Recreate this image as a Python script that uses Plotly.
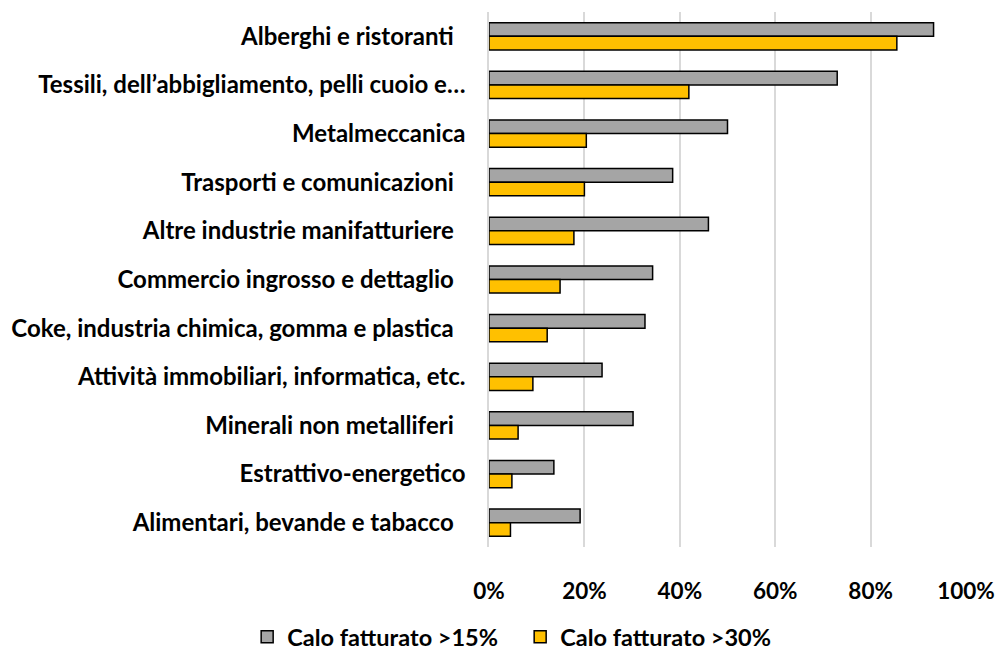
import plotly.graph_objects as go

categories = [
    "Alberghi e ristoranti ",
    "Tessili, dell’abbigliamento, pelli cuoio e…",
    "Metalmeccanica",
    "Trasporti e comunicazioni ",
    "Altre industrie manifatturiere ",
    "Commercio ingrosso e dettaglio ",
    "Coke, industria chimica, gomma e plastica ",
    "Attività immobiliari, informatica, etc.",
    "Minerali non metalliferi ",
    "Estrattivo-energetico",
    "Alimentari, bevande e tabacco ",
]
calo15 = [93.2, 73.0, 50.0, 38.5, 46.0, 34.3, 32.7, 23.7, 30.2, 13.6, 19.1]
calo30 = [85.5, 41.9, 20.4, 20.0, 17.8, 14.9, 12.2, 9.2, 6.1, 4.8, 4.5]
xticks = [0, 20, 40, 60, 80, 100]
xticklabels = ["0%", "20%", "40%", "60%", "80%", "100%"]

display = [c[:-1] + "\u00a0\u00a0" if c.endswith(" ") else c for c in categories]

FAM = "Lato, Carlito, Calibri, sans-serif"
tfont = dict(family=FAM, size=24, color="black", weight="bold")
xfont = dict(family=FAM, size=22.5, color="black", weight="bold")
lfont = dict(family=FAM, size=23.5, color="black", weight="bold")

fig = go.Figure()
fig.add_trace(go.Bar(
    y=categories, x=calo15, orientation="h", name="Calo fatturato >15%",
    marker=dict(color="#a5a5a5", line=dict(color="black", width=1.5)),
))
fig.add_trace(go.Bar(
    y=categories, x=calo30, orientation="h", name="Calo fatturato >30%",
    marker=dict(color="#ffc000", line=dict(color="black", width=1.5)),
))

fig.update_layout(
    width=995, height=651,
    margin=dict(l=489, r=29, t=12, b=104, autoexpand=False),
    paper_bgcolor="white", plot_bgcolor="white",
    font=dict(family=FAM, size=24, color="black"),
    barmode="group", bargap=0.44, bargroupgap=0,
    showlegend=True,
    legend=dict(orientation="h", x=-0.507, xanchor="left", y=-0.168, yanchor="middle",
                font=lfont, tracegroupgap=0, entrywidth=228),
    xaxis=dict(range=[0, 100], tickvals=xticks, ticktext=xticklabels,
               showgrid=True, gridcolor="#d9d9d9", gridwidth=1.5,
               zeroline=False, showline=False, ticks="",
               tickfont=xfont, automargin=False, ticklabeloverflow="allow",
               ticklabelstandoff=28, fixedrange=True),
    yaxis=dict(categoryorder="array", categoryarray=categories,
               tickvals=categories, ticktext=display,
               autorange="reversed", showgrid=False, zeroline=False,
               showline=True, linecolor="#d9d9d9", linewidth=1.5, ticks="",
               tickfont=tfont, automargin=False, ticklabeloverflow="allow",
               ticklabelstandoff=17, fixedrange=True),
)

fig.write_html("out.html", config={"displayModeBar": False},
               post_script="document.body.style.margin='0';")
